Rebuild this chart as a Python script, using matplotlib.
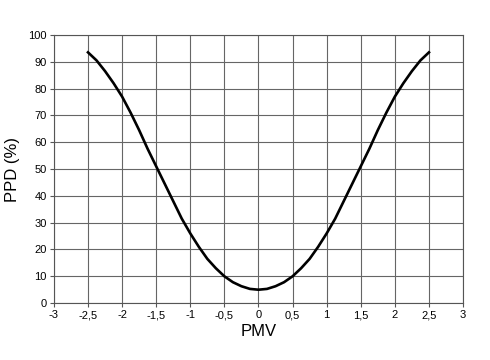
import matplotlib
matplotlib.use("Agg")
import matplotlib.pyplot as plt
from matplotlib.ticker import FuncFormatter

plt.rcParams['font.family'] = ['Liberation Sans', 'DejaVu Sans']

pmv = [-2.5, -2.375, -2.25, -2.125, -2.0, -1.875, -1.75, -1.625, -1.5, -1.375,
       -1.25, -1.125, -1.0, -0.875, -0.75, -0.625, -0.5, -0.375, -0.25, -0.125, 0.0,
       0.125, 0.25, 0.375, 0.5, 0.625, 0.75, 0.875, 1.0, 1.125, 1.25,
       1.375, 1.5, 1.625, 1.75, 1.875, 2.0, 2.125, 2.25, 2.375, 2.5]
ppd = [93.5, 90.5, 86.5, 82, 77, 71, 64.5, 57.5, 51, 44.5,
       38, 31.5, 26, 21, 16.5, 13, 10, 7.8, 6.3, 5.3, 5,
       5.3, 6.3, 7.8, 10, 13, 16.5, 21, 26, 31.5, 38,
       44.5, 51, 57.5, 64.5, 71, 77, 82, 86.5, 90.5, 93.5]

x_ticks = [-3, -2.5, -2, -1.5, -1, -0.5, 0, 0.5, 1, 1.5, 2, 2.5, 3]
y_ticks = [0, 10, 20, 30, 40, 50, 60, 70, 80, 90, 100]

fig = plt.figure(figsize=(4.9, 3.6), dpi=100)
ax = fig.add_axes([0.110, 0.158, 0.835, 0.745])

ax.plot(pmv, ppd, color='black', linewidth=1.9, solid_joinstyle='round')

ax.set_xlim(-3, 3)
ax.set_ylim(0, 100)
ax.set_xticks(x_ticks)
ax.set_yticks(y_ticks)

def fmt(v, pos):
    return ('%g' % v).replace('.', ',')
ax.xaxis.set_major_formatter(FuncFormatter(fmt))
ax.grid(True, color='#666666', linewidth=0.8)
ax.set_axisbelow(True)
for s in ax.spines.values():
    s.set_color('#555555')
    s.set_linewidth(0.8)
ax.tick_params(axis='both', labelsize=8, length=3, width=0.8, color='#555555', pad=2)

ax.set_xlabel('PMV', fontsize=12, labelpad=3)
ax.set_ylabel('PPD (%)', fontsize=12, labelpad=6)

fig.savefig('out.png', dpi=100)
